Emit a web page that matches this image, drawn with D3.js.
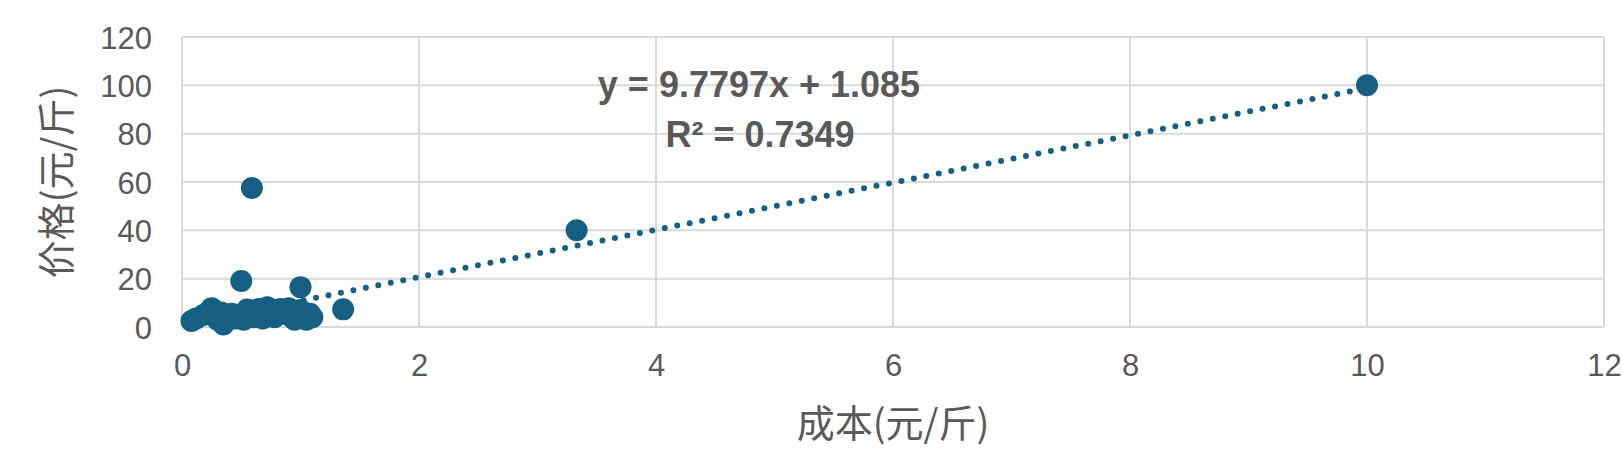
<!DOCTYPE html>
<html>
<head>
<meta charset="utf-8">
<script src="https://cdn.jsdelivr.net/npm/d3@7"></script>
<style>
  html, body { margin: 0; padding: 0; background: #fff; }
  svg { display: block; }
</style>
</head>
<body>
<svg id="chart" width="1622" height="456"></svg>
<script>
// ---- data (cost 元/斤, price 元/斤) ----
const costs = [0.08, 0.12, 0.18, 0.22, 0.25, 0.28, 0.30, 0.33, 0.35, 0.37, 0.40, 0.42, 0.45, 0.48, 0.52,
               0.55, 0.57, 0.60, 0.62, 0.65, 0.68, 0.70, 0.72, 0.75, 0.78, 0.80, 0.83, 0.86, 0.90, 0.92,
               0.95, 0.97, 1.00, 1.02, 1.05, 1.08, 1.10, 0.50, 0.59, 1.00, 1.36, 3.33, 10.0];
const prices = [2.5, 3.5, 5.0, 6.0, 7.8, 5.0, 3.0, 6.0, 1.0, 2.5, 4.5, 5.5, 3.5, 5.0, 3.0,
                7.2, 5.0, 4.0, 6.0, 7.5, 3.5, 5.5, 8.2, 6.0, 4.0, 7.0, 7.5, 5.5, 7.8, 4.5,
                3.0, 6.5, 7.0, 4.5, 3.0, 5.5, 4.0, 19.0, 57.5, 16.5, 7.3, 40.0, 100.0];
const xTicks = [0, 2, 4, 6, 8, 10, 12];
const yTicks = [0, 20, 40, 60, 80, 100, 120];
const trendSlope = 9.7797;
const trendIntercept = 1.085;
const trendR2 = 0.7349;
const xTitle = "成本(元/斤)";
const yTitle = "价格(元/斤)";

// ---- layout ----
const W = 1622, H = 456;
const plot = { left: 182, right: 1604, top: 37, bottom: 327 };
const color = "#156082";
const textColor = "#595959";
const gridColor = "#d9d9d9";
const font = "'Liberation Sans', 'Noto Sans CJK SC', sans-serif";
const cjkFont = "'Noto Sans CJK SC', 'Liberation Sans', sans-serif";

const svg = d3.select("#chart");
svg.append("rect").attr("width", W).attr("height", H).attr("fill", "#fff");

const x = d3.scaleLinear().domain([0, 12]).range([plot.left, plot.right]);
const y = d3.scaleLinear().domain([0, 120]).range([plot.bottom, plot.top]);

// gridlines
const grid = svg.append("g");
grid.selectAll("line.v").data(xTicks).join("line")
  .attr("x1", d => x(d)).attr("x2", d => x(d))
  .attr("y1", plot.top).attr("y2", plot.bottom)
  .attr("stroke", gridColor).attr("stroke-width", 2);
grid.selectAll("line.h").data(yTicks).join("line")
  .attr("x1", plot.left).attr("x2", plot.right)
  .attr("y1", d => y(d)).attr("y2", d => y(d))
  .attr("stroke", gridColor).attr("stroke-width", 2);

// axes via d3 axis generators (labels only)
const xAxis = d3.axisBottom(x).tickValues(xTicks).tickSize(0).tickPadding(0).tickFormat(d3.format("d"));
const yAxis = d3.axisLeft(y).tickValues(yTicks).tickSize(0).tickPadding(0).tickFormat(d3.format("d"));

const gx = svg.append("g").attr("transform", `translate(0, ${plot.bottom + 27})`).call(xAxis);
const gy = svg.append("g").attr("transform", `translate(${plot.left - 30}, 0)`).call(yAxis);
[gx, gy].forEach(g => {
  g.select(".domain").remove();
  g.selectAll("text")
    .attr("fill", textColor)
    .style("font-family", font)
    .style("font-size", "31px");
});
gx.selectAll("text").attr("dy", "0.71em");
gy.selectAll("text").attr("dy", "0.36em");

// trendline (dotted)
const xMin = d3.min(costs), xMax = d3.max(costs);
const trendData = [xMin, xMax].map(v => ({ cx: v, cy: trendSlope * v + trendIntercept }));
svg.append("path")
  .datum(trendData)
  .attr("d", d3.line().x(d => x(d.cx)).y(d => y(d.cy)))
  .attr("fill", "none")
  .attr("stroke", color)
  .attr("stroke-width", 6)
  .attr("stroke-linecap", "round")
  .attr("stroke-dasharray", "0 12.7");

// points
const pts = costs.map((c, i) => ({ c, p: prices[i] }));
svg.append("g").selectAll("circle").data(pts).join("circle")
  .attr("cx", d => x(d.c))
  .attr("cy", d => y(d.p))
  .attr("r", 11)
  .attr("fill", color);

// trendline label
const lbl = svg.append("g")
  .style("font-family", font)
  .style("font-weight", "bold")
  .style("font-size", "36px")
  .attr("fill", textColor)
  .attr("text-anchor", "middle");
lbl.append("text").attr("x", 759).attr("y", 84).attr("dy", "0.36em")
  .text(`y = ${trendSlope}x + ${trendIntercept}`);
lbl.append("text").attr("x", 760).attr("y", 134).attr("dy", "0.36em")
  .text(`R² = ${trendR2}`);

// axis titles
svg.append("text")
  .attr("x", (plot.left + plot.right) / 2)
  .attr("y", 423)
  .attr("dy", "0.36em")
  .attr("text-anchor", "middle")
  .attr("fill", textColor)
  .style("font-family", cjkFont)
  .style("font-size", "38px")
  .text(xTitle);

svg.append("text")
  .attr("transform", `translate(56, ${(plot.top + plot.bottom) / 2}) rotate(-90)`)
  .attr("dy", "0.36em")
  .attr("text-anchor", "middle")
  .attr("fill", textColor)
  .style("font-family", cjkFont)
  .style("font-size", "38px")
  .text(yTitle);
</script>
</body>
</html>
